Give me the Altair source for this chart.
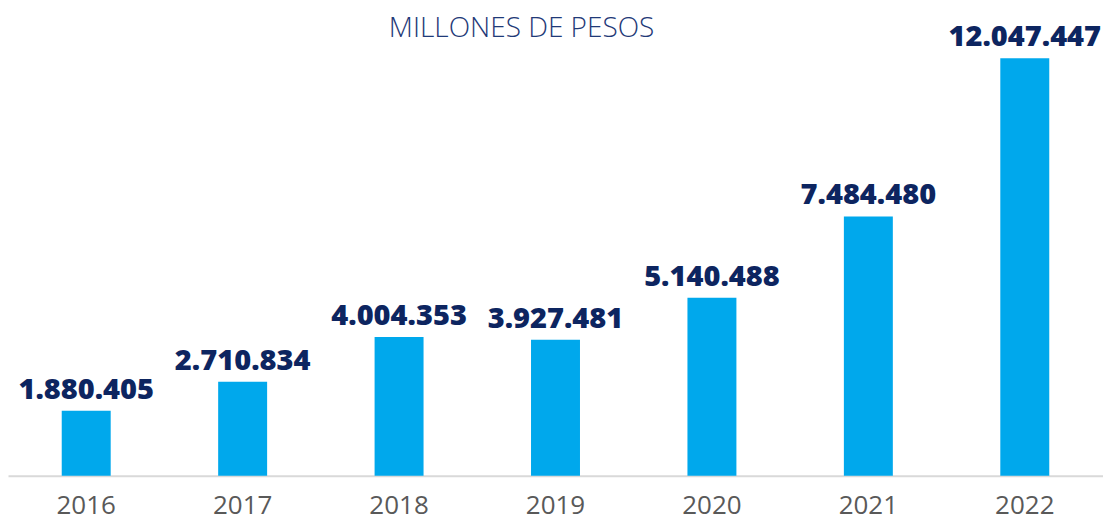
import altair as alt
import pandas as pd

years = ["2016", "2017", "2018", "2019", "2020", "2021", "2022"]
values = [1880405, 2710834, 4004353, 3927481, 5140488, 7484480, 12047447]
labels = ["1.880.405", "2.710.834", "4.004.353", "3.927.481", "5.140.488", "7.484.480", "12.047.447"]
title_text = ["MILLONES DE PESOS"]

df = pd.DataFrame({"year": years, "value": values, "label": labels})
FONT = "Open Sans"

x = alt.X("year:N", sort=years, title=None,
          scale=alt.Scale(paddingInner=0.687, paddingOuter=0.3435),
          axis=alt.Axis(labelAngle=0, ticks=False, tickSize=0, domainColor="#D9D9D9",
                        domainWidth=2, labelFont=FONT, labelFontSize=26,
                        labelColor="#595959", labelPadding=17, grid=False))
y = alt.Y("value:Q", title=None, scale=alt.Scale(domain=[0, 13490000], nice=False),
          axis=None)

bars = alt.Chart(df).mark_bar(color="#00A8EC").encode(x=x, y=y)
text = alt.Chart(df).mark_text(font=FONT, fontSize=29, fontWeight=800, color="#0D2560",
                               baseline="alphabetic", dy=-12).encode(x=x, y=y, text="label:N")
title = alt.Chart(pd.DataFrame({"t": title_text})).mark_text(
    font=FONT, fontSize=28, fontWeight=300, color="#1F3A78", baseline="alphabetic",
    align="center").encode(x=alt.value(514), y=alt.value(29), text="t:N")

chart = alt.layer(bars, text, title).properties(
    width=1096, height=468,
    autosize=alt.AutoSizeParams(type="none"),
    padding={"left": 0, "top": 0, "right": 0, "bottom": 49},
    background="white"
).configure_view(stroke=None)

chart.save("out.html", embed_options={"renderer": "svg", "actions": False})
